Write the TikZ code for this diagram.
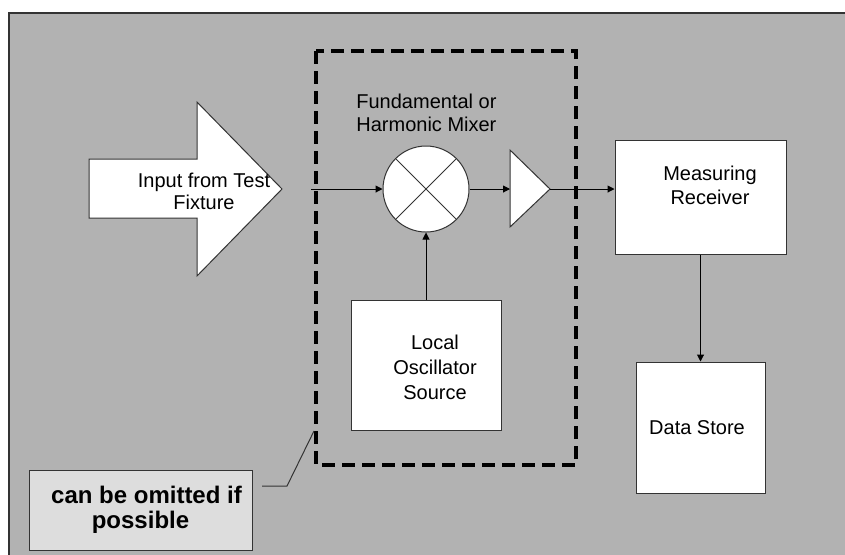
\documentclass[tikz,border=0pt]{standalone}
\usepackage{fontspec}
\setmainfont{Liberation Sans}
\usetikzlibrary{arrows.meta}

\definecolor{panel}{HTML}{B2B2B2}
\definecolor{notefill}{HTML}{DDDDDD}
\definecolor{edge}{HTML}{333333}

\begin{document}
\begin{tikzpicture}[x=0.5pt, y=-0.5pt, >={Triangle[length=3.5pt, width=3.5pt]}]
\tikzstyle{block} = [rectangle, draw=edge, line width=0.5 pt, fill=white, inner sep=0 pt]
\tikzstyle{caption} = [inner sep=0 pt, align=center, font=\fontsize{10}{11}\selectfont]
\tikzstyle{signal} = [->, line width=0.5 pt, black]

\useasboundingbox (0,0) rectangle (845,554);
\fill [panel] (9,13) rectangle (860,570);
\draw [edge, line width=1 pt] (9,570) -- (9,13) -- (860,13);

% input from the fixture
\draw [fill=white, draw=edge, line width=0.5 pt] (89,159) -- (197,159) -- (197,102) -- (282,189) -- (197,276) -- (197,218) -- (89,218) -- cycle;
\node (input) [caption] at (204,191) {Input from Test\\Fixture};
\coordinate (feed) at (311,189);

% part that can be left out
\draw [line width=1.75 pt, dash pattern=on 6.5 pt off 3.5 pt] (316,51) rectangle (576,465);
\node (mixlabel) [caption, anchor=north west, align=left, font=\fontsize{10}{11.5}\selectfont] at (356,94) {Fundamental or\\Harmonic Mixer};

\node (mixer) [circle, draw=edge, line width=0.5 pt, fill=white, minimum size=43 pt, inner sep=0 pt] at (426,189) {};
\draw [edge, line width=0.5 pt] (mixer.45) -- (mixer.225) (mixer.135) -- (mixer.315);

\draw [fill=white, draw=edge, line width=0.5 pt] (510,150) -- (550,189) coordinate (ampout) -- (510,227) -- cycle;
\coordinate (ampin) at (510,189);

\node (osc) [block, minimum width=75 pt, minimum height=65 pt] at (426,365) {};
\node (osctext) [caption, font=\fontsize{10}{12.5}\selectfont] at (435,367) {Local\\Oscillator\\Source};

% receiver side
\node (receiver) [block, minimum width=85.5 pt, minimum height=57 pt] at (700.5,197) {};
\node (rectext) [caption, font=\fontsize{10}{12}\selectfont] at (710,185) {Measuring\\Receiver};
\node (store) [block, minimum width=64.5 pt, minimum height=65.5 pt] at (700.5,427.5) {};
\node (storetext) [caption] at (697,428) {Data Store};

\draw [signal] (feed) -- (mixer.west);
\draw [signal] (mixer.east) -- (ampin);
\draw [signal] (ampout) -- (ampout -| receiver.west);
\draw [signal] (osc.north) -- (mixer.south);
\draw [signal] (receiver.south) -- (store.north);

% note
\node (note) [rectangle, draw=edge, line width=0.5 pt, fill=notefill, minimum width=111.5 pt, minimum height=40 pt, align=center, font=\fontsize{12}{12.5}\bfseries] at (140.5,510) {\hspace*{6pt}can be omitted if\\possible};
\draw [edge, line width=0.5 pt] (262,486) coordinate (notetail) -- (287,486) -- (314,431) coordinate (notehead);

\end{tikzpicture}
\end{document}
